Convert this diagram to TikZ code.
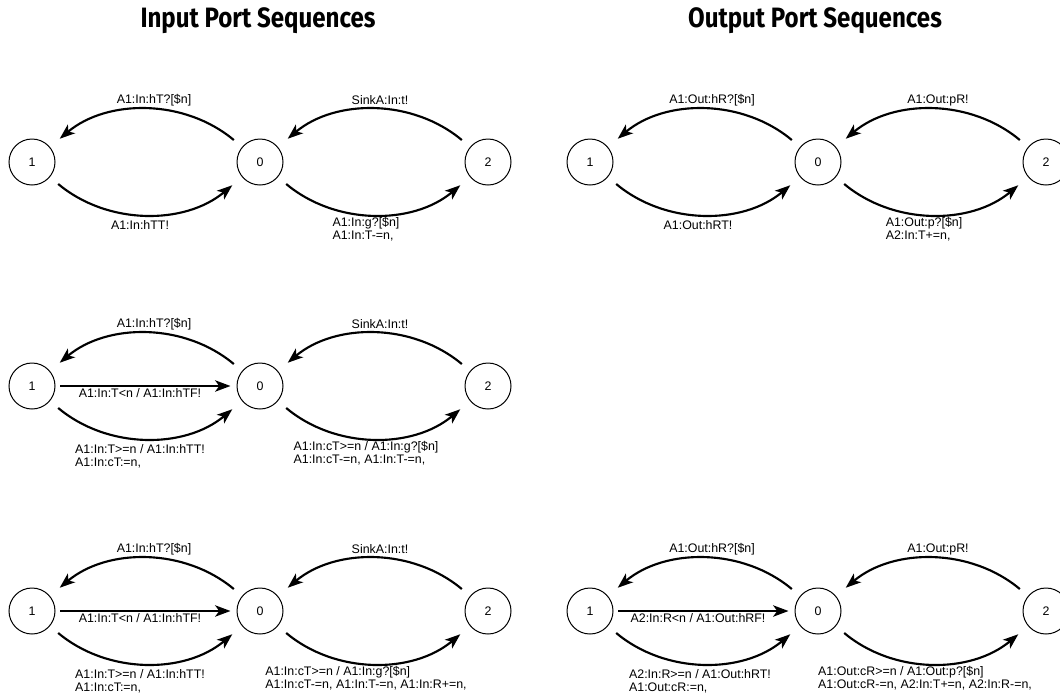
\documentclass[tikz,border=0pt]{standalone}
\usepackage{fontspec}
\setmainfont{Liberation Sans}
\newfontfamily\titlefont{Fira Sans}
\usetikzlibrary{arrows.meta}
\begin{document}
\begin{tikzpicture}[x=0.75pt,y=-0.75pt,
  st/.style={circle,draw,line width=0.75pt,minimum size=34.5pt,inner sep=0pt,font=\fontsize{9.3}{10}\selectfont},
  tr/.style={line width=1.6pt,-{Stealth[length=11.5pt,width=8.5pt,inset=3pt]},shorten <=8pt,shorten >=9.5pt,bend right=40},
  trs/.style={line width=1.6pt,-{Stealth[length=11.5pt,width=8.5pt,inset=3pt]},shorten <=3.4pt,shorten >=4.5pt},
  lab/.style={font=\fontsize{9.3}{9.6}\selectfont,inner sep=0pt,align=left},
  ttl/.style={font=\titlefont\bfseries\fontsize{21}{22}\selectfont,inner sep=0pt,anchor=base,xscale=0.86,transform shape}
]
\useasboundingbox (0,0) rectangle (1060,697);

\node[ttl] (tin) at (258,27) {Input Port Sequences};
\node[ttl] (tout) at (815,27) {Output Port Sequences};

% ---------- Row 1, left ----------
\begin{scope}[shift={(32,162)}]
\node[st] (a1) at (0,0) {1};
\node[st] (b1) at (228,0) {0};
\node[st] (c1) at (456,0) {2};
\draw[tr] (b1) to (a1);
\draw[tr] (c1) to (b1);
\draw[tr] (a1) to (b1);
\draw[tr] (b1) to (c1);
\node[lab] (a1t) at (122,-62) {A1:In:hT?[\$n]};
\node[lab] (c1t) at (348,-62) {SinkA:In:t!};
\node[lab,anchor=north] (a1b) at (108,58.5) {A1:In:hTT!};
\node[lab,anchor=north] (b1b) at (334,55) {A1:In:g?[\$n]\\A1:In:T-=n,};
\end{scope}

% ---------- Row 1, right ----------
\begin{scope}[shift={(590,162)}]
\node[st] (a2) at (0,0) {1};
\node[st] (b2) at (228,0) {0};
\node[st] (c2) at (456,0) {2};
\draw[tr] (b2) to (a2);
\draw[tr] (c2) to (b2);
\draw[tr] (a2) to (b2);
\draw[tr] (b2) to (c2);
\node[lab] (a2t) at (122,-62) {A1:Out:hR?[\$n]};
\node[lab] (c2t) at (348,-62) {A1:Out:pR!};
\node[lab,anchor=north] (a2b) at (108,58.5) {A1:Out:hRT!};
\node[lab,anchor=north] (b2b) at (334,55) {A1:Out:p?[\$n]\\A2:In:T+=n,};
\end{scope}

% ---------- Row 2, left ----------
\begin{scope}[shift={(32,386)}]
\node[st] (a3) at (0,0) {1};
\node[st] (b3) at (228,0) {0};
\node[st] (c3) at (456,0) {2};
\draw[tr] (b3) to (a3);
\draw[tr] (c3) to (b3);
\draw[trs] (a3) -- (b3);
\draw[tr] (a3) to (b3);
\draw[tr] (b3) to (c3);
\node[lab] (a3t) at (122,-62) {A1:In:hT?[\$n]};
\node[lab] (c3t) at (348,-62) {SinkA:In:t!};
\node[lab,anchor=north] (a3m) at (108,2.5) {A1:In:T<n / A1:In:hTF!};
\node[lab,anchor=north] (a3b) at (108,58.5) {A1:In:T>=n / A1:In:hTT!\\A1:In:cT:=n,};
\node[lab,anchor=north] (b3b) at (334,55) {A1:In:cT>=n / A1:In:g?[\$n]\\A1:In:cT-=n, A1:In:T-=n,};
\end{scope}

% ---------- Row 3, left ----------
\begin{scope}[shift={(32,611)}]
\node[st] (a4) at (0,0) {1};
\node[st] (b4) at (228,0) {0};
\node[st] (c4) at (456,0) {2};
\draw[tr] (b4) to (a4);
\draw[tr] (c4) to (b4);
\draw[trs] (a4) -- (b4);
\draw[tr] (a4) to (b4);
\draw[tr] (b4) to (c4);
\node[lab] (a4t) at (122,-62) {A1:In:hT?[\$n]};
\node[lab] (c4t) at (348,-62) {SinkA:In:t!};
\node[lab,anchor=north] (a4m) at (108,2.5) {A1:In:T<n / A1:In:hTF!};
\node[lab,anchor=north] (a4b) at (108,58.5) {A1:In:T>=n / A1:In:hTT!\\A1:In:cT:=n,};
\node[lab,anchor=north] (b4b) at (334,55) {A1:In:cT>=n / A1:In:g?[\$n]\\A1:In:cT-=n, A1:In:T-=n, A1:In:R+=n,};
\end{scope}

% ---------- Row 3, right ----------
\begin{scope}[shift={(590,611)}]
\node[st] (a5) at (0,0) {1};
\node[st] (b5) at (228,0) {0};
\node[st] (c5) at (456,0) {2};
\draw[tr] (b5) to (a5);
\draw[tr] (c5) to (b5);
\draw[trs] (a5) -- (b5);
\draw[tr] (a5) to (b5);
\draw[tr] (b5) to (c5);
\node[lab] (a5t) at (122,-62) {A1:Out:hR?[\$n]};
\node[lab] (c5t) at (348,-62) {A1:Out:pR!};
\node[lab,anchor=north] (a5m) at (108,2.5) {A2:In:R<n / A1:Out:hRF!};
\node[lab,anchor=north] (a5b) at (110,58.5) {A2:In:R>=n / A1:Out:hRT!\\A1:Out:cR:=n,};
\node[lab,anchor=north] (b5b) at (335,55) {A1:Out:cR>=n / A1:Out:p?[\$n]\\A1:Out:cR-=n, A2:In:T+=n, A2:In:R-=n,};
\end{scope}
\end{tikzpicture}
\end{document}
